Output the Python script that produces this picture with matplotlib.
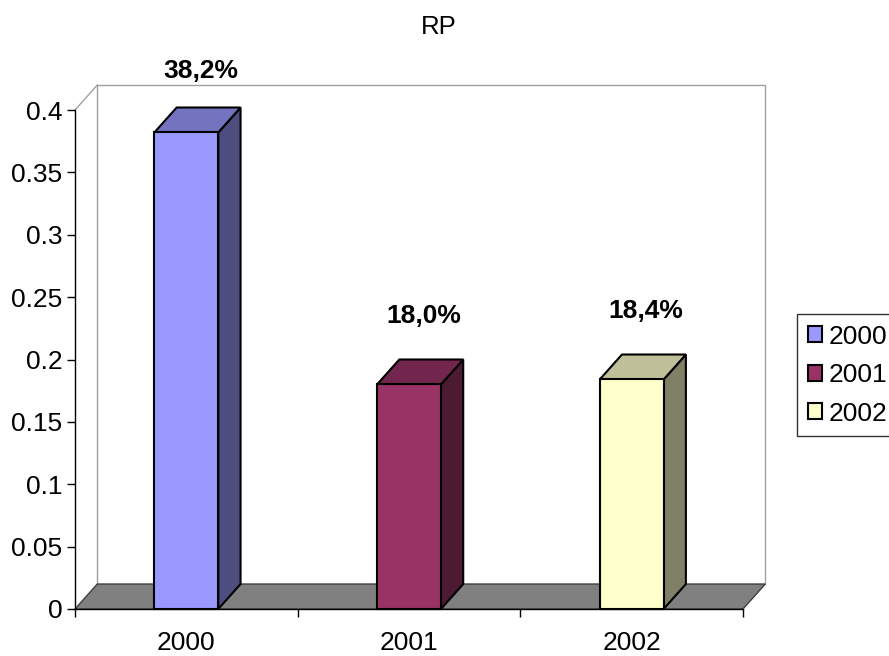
import matplotlib
matplotlib.use('Agg')
import matplotlib.pyplot as plt
from matplotlib.patches import Polygon, Rectangle, Patch
import numpy as np

years = ["2000", "2001", "2002"]
values = [0.382, 0.180, 0.184]
face_colors = ["#9999FF", "#993366", "#FFFFCC"]
y_ticks = [0, 0.05, 0.1, 0.15, 0.2, 0.25, 0.3, 0.35, 0.4]
title = "RP"

plt.rcParams['font.family'] = ['Liberation Sans', 'DejaVu Sans']
fs = 19

fig = plt.figure(figsize=(8.89, 6.56), dpi=100)
ax = fig.add_axes([75 / 889, 47 / 656, 668 / 889, 499 / 656])
ax.set_xlim(0, 3)
ax.set_ylim(0, 0.4)
for s in ax.spines.values():
    s.set_visible(False)

# depth offset of the 3D box in data units
dx, dy = 0.1, 0.02
ytop = y_ticks[-1]


def shade(hexcol, k):
    rgb = np.array(matplotlib.colors.to_rgb(hexcol))
    return tuple(rgb * k)


# back wall, side wall and floor
ax.add_patch(Rectangle((dx, dy), 3, ytop, facecolor="white", edgecolor="#A0A0A0",
                       lw=1.0, clip_on=False, zorder=0))
ax.plot([0, dx], [ytop, ytop + dy], color="#A0A0A0", lw=1.0, clip_on=False, zorder=0)
ax.add_patch(Polygon([(0, 0), (3, 0), (3 + dx, dy), (dx, dy)], closed=True,
                     facecolor="#808080", edgecolor="#404040", lw=1.0,
                     clip_on=False, zorder=1))

# bars: front face, right side, top
w = 0.287
for i, (v, c) in enumerate(zip(values, face_colors)):
    x0 = i + 0.5 - w / 2
    x1 = x0 + w
    ax.add_patch(Polygon([(x1, 0), (x1 + dx, dy), (x1 + dx, v + dy), (x1, v)], closed=True,
                         facecolor=shade(c, 0.5), edgecolor="black", lw=1.5,
                         clip_on=False, zorder=3))
    ax.add_patch(Polygon([(x0, v), (x1, v), (x1 + dx, v + dy), (x0 + dx, v + dy)], closed=True,
                         facecolor=shade(c, 0.75), edgecolor="black", lw=1.5,
                         clip_on=False, zorder=3))
    ax.add_patch(Rectangle((x0, 0), w, v, facecolor=c, edgecolor="black", lw=1.5,
                           clip_on=False, zorder=4))
    label = f"{v * 100:.1f}%".replace(".", ",")
    ax.text(i + 0.5 + dx / 2 + 0.015, min(v + 0.055, 0.431), label, ha="center", va="center",
            fontsize=fs, fontweight="bold", clip_on=False, zorder=5)

# axis lines
ax.plot([0, 3], [0, 0], color="black", lw=1.0, clip_on=False, zorder=5)
ax.plot([0, 0], [0, ytop], color="black", lw=1.0, clip_on=False, zorder=5)

ax.set_yticks(y_ticks)
ax.set_yticklabels([f"{t:g}" for t in y_ticks])
ax.set_xticks([0, 1, 2, 3])
ax.set_xticklabels([])
ax.set_xticks([0.5, 1.5, 2.5], minor=True)
ax.set_xticklabels(years, minor=True)
ax.tick_params(axis="y", direction="out", length=6, width=1, pad=3, labelsize=fs)
ax.tick_params(axis="x", which="major", direction="out", length=6, width=1)
ax.tick_params(axis="x", which="minor", length=0, pad=16, labelsize=fs)

fig.text(0.494, 1 - 27 / 656, title, ha="center", va="center", fontsize=fs - 0.5)

handles = [Patch(facecolor=c, edgecolor="black", lw=1.5) for c in face_colors]
fig.legend(handles, years, loc="upper left", bbox_to_anchor=(797 / 889, 1 - 314 / 656),
           fontsize=fs, frameon=True, fancybox=False, edgecolor="black",
           handlelength=0.55, handleheight=0.55, handletextpad=0.25,
           borderpad=0.4, labelspacing=0.55, borderaxespad=0)

fig.savefig("out.png", dpi=100)
